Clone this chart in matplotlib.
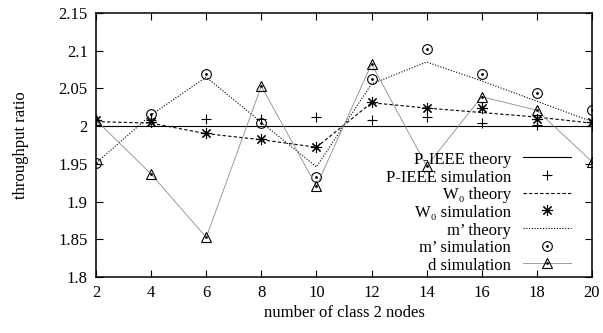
import matplotlib
matplotlib.use("Agg")
import matplotlib.pyplot as plt

# ------------------------------------------------------------
# data
# ------------------------------------------------------------
nodes = [2, 4, 6, 8, 10, 12, 14, 16, 18, 20]

pieee_theory = [2.0, 2.0, 2.0, 2.0, 2.0, 2.0, 2.0, 2.0, 2.0, 2.0]
pieee_sim = [2.008, 2.008, 2.009, 2.010, 2.0125, 2.0085, 2.0115, 2.004, 2.0015, 2.000]
w0_theory = [2.006, 2.004, 1.990, 1.982, 1.972, 2.031, 2.024, 2.018, 2.012, 2.004]
w0_sim = [2.008, 2.006, 1.991, 1.9825, 1.9727, 2.0316, 2.0244, 2.024, 2.009, 2.006]
m_theory = [1.951, 2.015, 2.065, 2.005, 1.946, 2.056, 2.085, 2.060, 2.033, 2.006]
m_sim = [1.951, 2.016, 2.069, 2.004, 1.932, 2.0625, 2.102, 2.0687, 2.044, 2.0214]
d_sim = [2.008, 1.9365, 1.8525, 2.053, 1.9206, 2.0824, 1.947, 2.039, 2.021, 1.953]

labels = ["P-IEEE theory", "P-IEEE simulation", "W\u2080 theory", "W\u2080 simulation",
          "m\u2019 theory", "m\u2019 simulation", "d simulation"]

plt.rcParams["font.family"] = ["Liberation Serif", "DejaVu Serif"]
plt.rcParams["font.size"] = 12

fig = plt.figure(figsize=(6.03, 3.33), dpi=100)
ax = fig.add_axes([96 / 603, 1 - 277 / 333, 496 / 603, 264 / 333])

lw = 0.8
h1, = ax.plot(nodes, pieee_theory, color="black", lw=lw)
h2, = ax.plot(nodes, pieee_sim, ls="none", marker="+", ms=7, mew=0.8, color="black")
h3, = ax.plot(nodes, w0_theory, color="black", lw=lw, ls=(0, (3, 2)))
h4, = ax.plot(nodes, w0_sim, ls="none", marker=(8, 2, 0), ms=8, mew=0.8, color="black")
h5, = ax.plot(nodes, m_theory, color="black", lw=lw, ls=(0, (1, 1.5)))
h6, = ax.plot(nodes, m_sim, ls="none", marker="o", ms=7, mfc="none", mec="black", mew=0.8)
h7, = ax.plot(nodes, d_sim, color="0.55", lw=0.6, marker="^", ms=7, mfc="none",
              mec="black", mew=0.8)
# small centre dots, as gnuplot draws them
d6, = ax.plot(nodes, m_sim, ls="none", marker=".", ms=2, color="black")
d7, = ax.plot(nodes, d_sim, ls="none", marker=".", ms=2, color="black")

ax.set_xlim(2, 20)
ax.set_ylim(1.8, 2.15)
ax.set_xticks(nodes)
ax.set_yticks([1.8, 1.85, 1.9, 1.95, 2.0, 2.05, 2.1, 2.15])
ax.set_yticklabels(["1.8", "1.85", "1.9", "1.95", "2", "2.05", "2.1", "2.15"])
ax.tick_params(direction="in", length=5, width=0.8, top=True, right=True, pad=6)
for s in ax.spines.values():
    s.set_linewidth(1.1)

ax.set_xlabel("number of class 2 nodes")
ax.set_ylabel("throughput ratio")
ax.xaxis.set_label_coords(0.5, -0.105)
ax.yaxis.set_label_coords(-0.135, 0.5)

leg = ax.legend([h1, h2, h3, h4, h5, (h6, d6), (h7, d7)], labels,
                loc="lower right", bbox_to_anchor=(571 / 603, 1 - 274 / 333),
                bbox_transform=fig.transFigure, frameon=False, markerfirst=False,
                handlelength=2.9, handletextpad=0.7, borderpad=0, borderaxespad=0,
                handleheight=1.0, labelspacing=0.03, fontsize=12)

fig.savefig("out.png", dpi=100)
